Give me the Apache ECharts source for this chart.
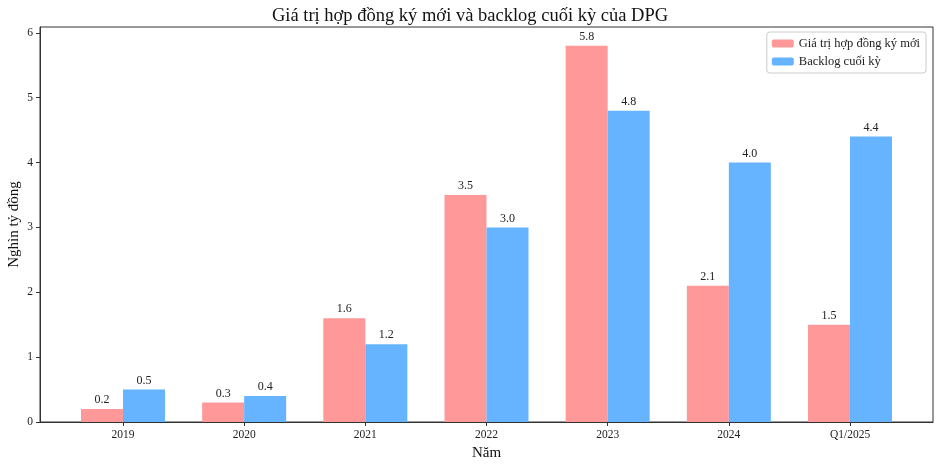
<!DOCTYPE html>
<html>
<head>
<meta charset="utf-8">
<script src="https://cdn.jsdelivr.net/npm/echarts@6/dist/echarts.min.js"></script>
<style>html,body{margin:0;padding:0;background:#fff;}#c{width:940px;height:467px;}</style>
</head>
<body>
<div id="c"></div>
<script>
const categories = ['2019', '2020', '2021', '2022', '2023', '2024', 'Q1/2025'];
const newContracts = [0.2, 0.3, 1.6, 3.5, 5.8, 2.1, 1.5];
const backlog = [0.5, 0.4, 1.2, 3.0, 4.8, 4.0, 4.4];
const yTicks = [0, 1, 2, 3, 4, 5, 6];
const seriesNames = ['Giá trị hợp đồng ký mới', 'Backlog cuối kỳ'];

const FONT = 'Liberation Serif';
const idx = categories.map((c, i) => i);
const chart = echarts.init(document.getElementById('c'), null, {renderer: 'canvas'});
const lbl = {show: true, position: 'top', distance: 3, fontFamily: FONT, fontSize: 12, color: '#222',
  formatter: p => p.value[1].toFixed(1)};
chart.setOption({
  animation: false,
  backgroundColor: '#fff',
  title: {text: 'Giá trị hợp đồng ký mới và backlog cuối kỳ của DPG', left: 'center', top: 2,
    textStyle: {fontFamily: FONT, fontSize: 18.5, fontWeight: 'normal', color: '#111'}},
  legend: {right: 14, top: 32, orient: 'vertical', itemWidth: 22, itemHeight: 8, itemGap: 5,
    borderColor: '#ccc', borderWidth: 1, borderRadius: 3, padding: [5, 6, 5, 5],
    textStyle: {fontFamily: FONT, fontSize: 12.5, color: '#222'}, data: seriesNames},
  grid: {left: 40, right: 7, top: 27, bottom: 45, show: true, borderColor: '#333', borderWidth: 1,
    outerBoundsMode: 'none', containLabel: false},
  xAxis: {type: 'value', min: -0.685, max: 6.685,
    name: 'Năm', nameLocation: 'middle', nameGap: 24, nameMoveOverlap: false,
    nameTextStyle: {fontFamily: FONT, fontSize: 15, color: '#111'},
    axisLine: {show: true, onZero: false, lineStyle: {color: '#333'}},
    axisTick: {show: true, length: 4, customValues: idx, lineStyle: {color: '#333'}},
    axisLabel: {customValues: idx, margin: 7, fontFamily: FONT, fontSize: 11.5, color: '#222',
      formatter: v => categories[Math.round(v)]},
    splitLine: {show: false}},
  yAxis: {type: 'value', min: 0, max: 6.09,
    name: 'Nghìn tỷ đồng', nameLocation: 'middle', nameGap: 18, nameMoveOverlap: false,
    nameTextStyle: {fontFamily: FONT, fontSize: 15, color: '#111'},
    axisLine: {show: true, onZero: false, lineStyle: {color: '#333'}},
    axisTick: {show: true, length: 4, customValues: yTicks, lineStyle: {color: '#333'}},
    axisLabel: {customValues: yTicks, margin: 7, fontFamily: FONT, fontSize: 11.5, color: '#222'},
    splitLine: {show: false}},
  series: [
    {name: seriesNames[0], type: 'bar', barWidth: 42, barGap: '0%', itemStyle: {color: '#FF9999'},
      label: lbl, data: newContracts.map((v, i) => [i, v])},
    {name: seriesNames[1], type: 'bar', barWidth: 42, barGap: '0%', itemStyle: {color: '#66B3FF'},
      label: lbl, data: backlog.map((v, i) => [i, v])}
  ]
});
</script>
</body>
</html>
